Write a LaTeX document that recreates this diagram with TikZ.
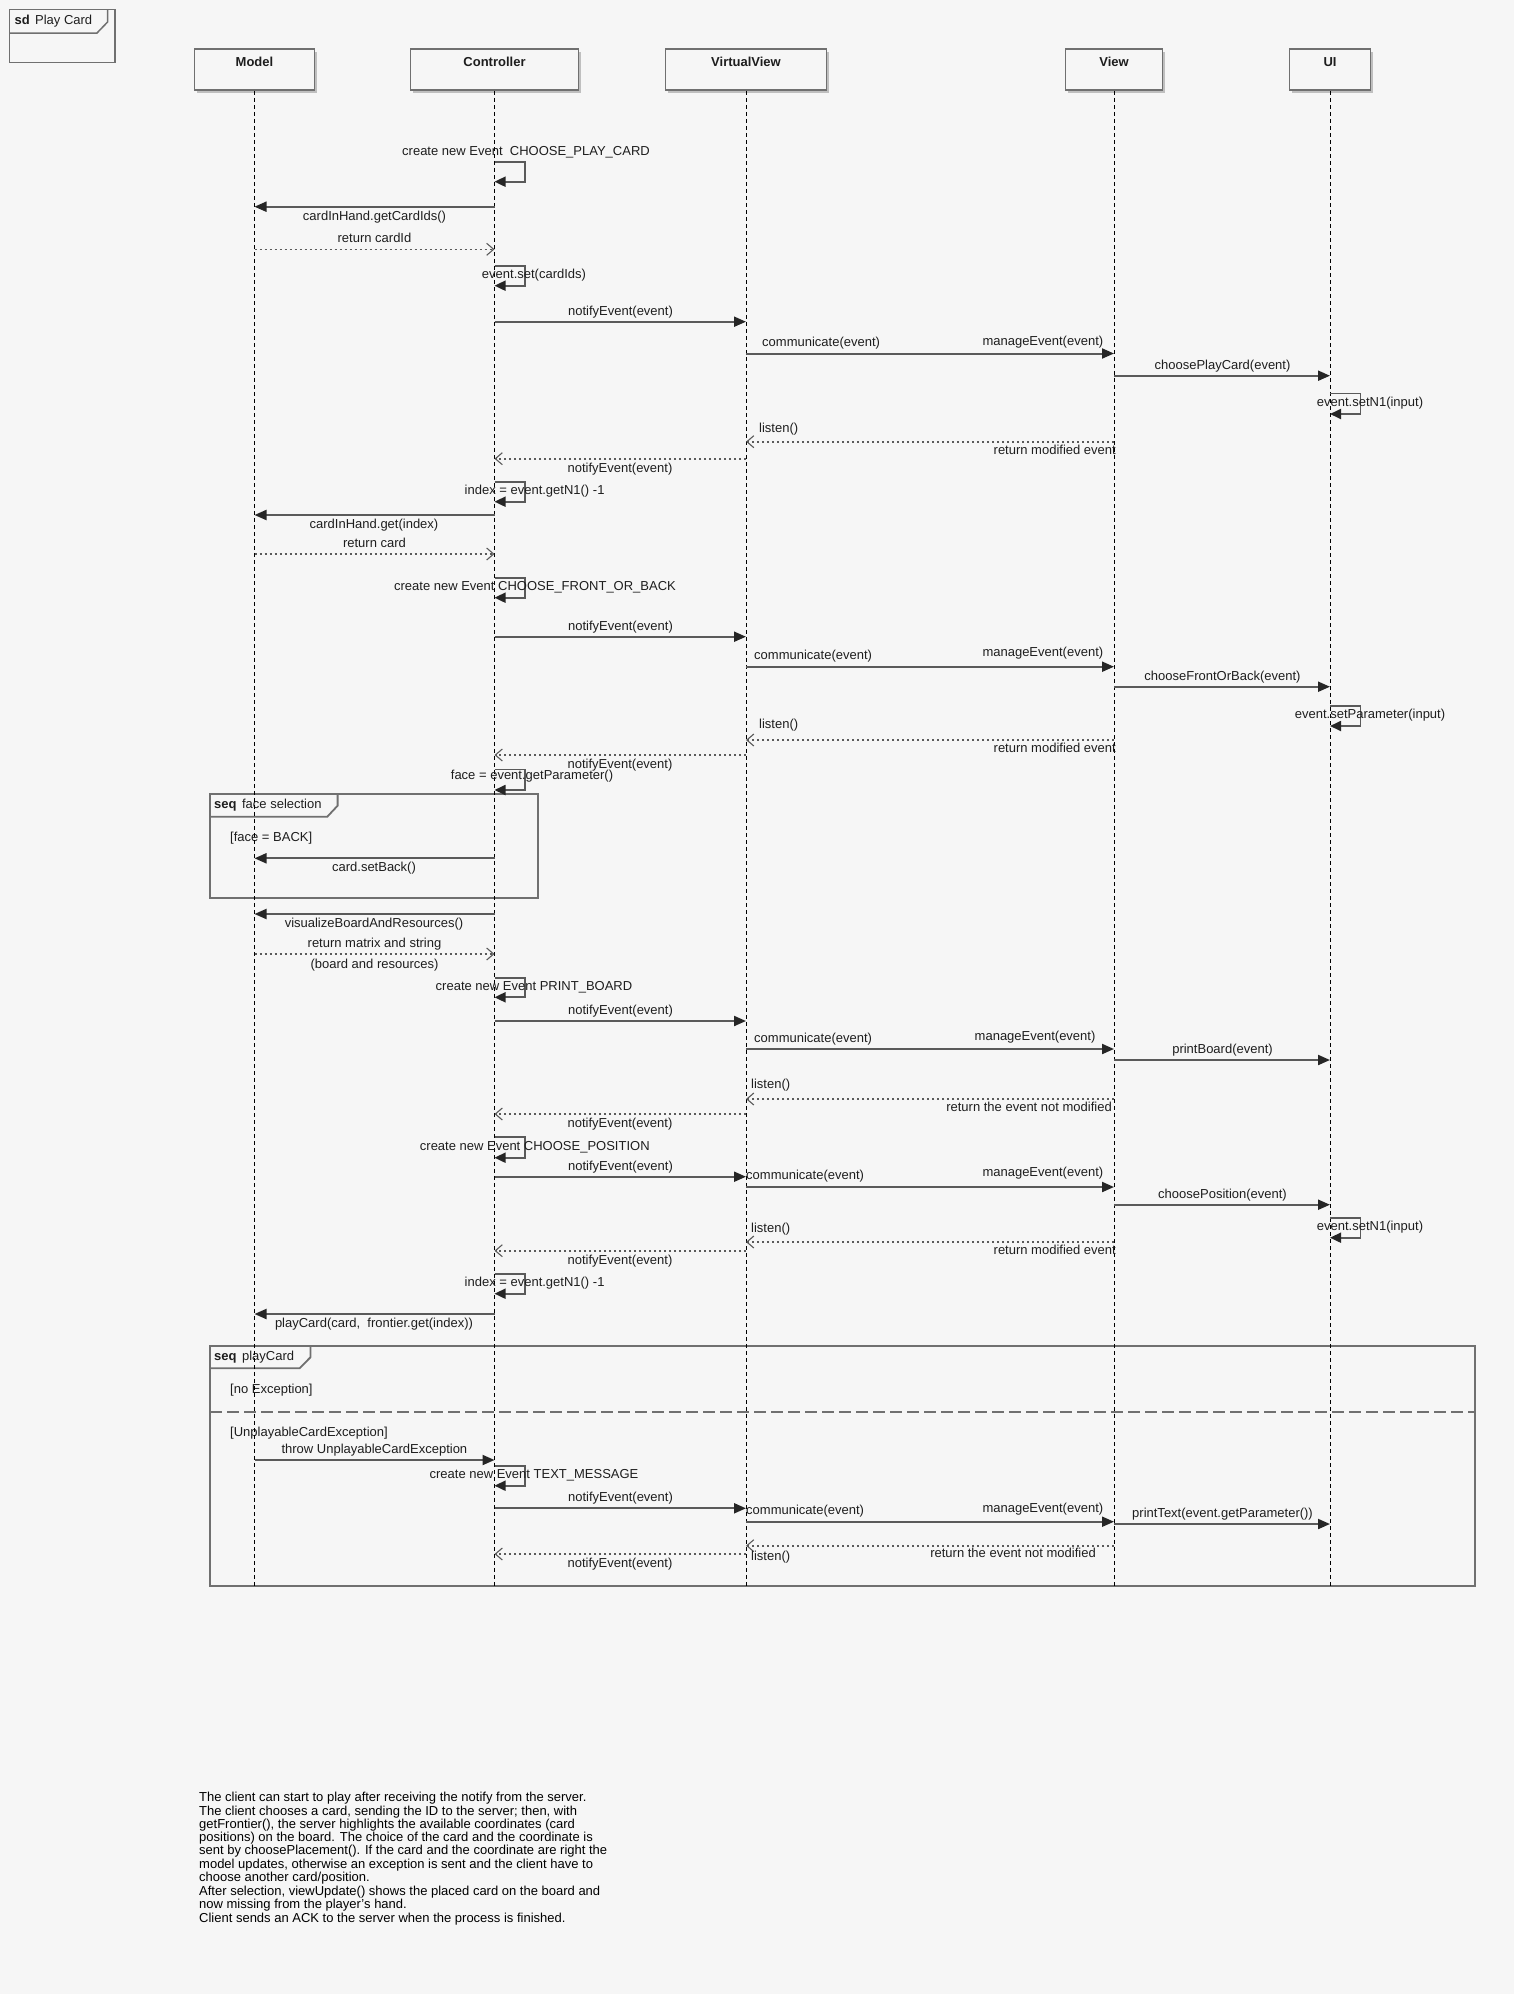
\documentclass[tikz,border=0pt]{standalone}
\usepackage{fontspec}
\setmainfont{Liberation Sans}
\usetikzlibrary{arrows.meta}
\definecolor{sheet}{HTML}{F6F6F6}
\definecolor{ink}{HTML}{1E1E1E}
\definecolor{wire}{HTML}{5A5A5A}
\definecolor{rim}{HTML}{707070}

\tikzset{
  lbl/.style={font=\fontsize{13}{15}\selectfont, text=ink, inner sep=0pt,
              text height=9.5pt, text depth=2.5pt},
  boxlbl/.style={lbl, font=\fontsize{13}{15}\selectfont\bfseries},
  head/.style={draw=rim, fill=sheet, line width=1.6pt, minimum height=41pt,
               inner sep=0pt},
  shade/.style={fill=black!25},
  lifeline/.style={draw=black, line width=0.9pt, dash pattern=on 4pt off 3pt},
  call/.style={draw=wire, line width=2pt,
               -{Triangle[length=12pt,width=10pt,color=black!85]}},
  selfcall/.style={draw=wire, line width=1.8pt,
               -{Triangle[length=11pt,width=10pt,color=black!85]}},
  reply/.style={draw=wire, line width=1.6pt, dash pattern=on 2.5pt off 2.5pt,
               -{Straight Barb[length=7pt,width=12pt,line width=1.1pt]}},
  frame/.style={draw=rim, line width=1.8pt},
}

\begin{document}
\begin{tikzpicture}[x=1pt,y=-1pt]
\useasboundingbox (0,0) rectangle (1514,1994);
\fill[sheet] (0,0) rectangle (1514,1994);

% ---------- sequence diagram frame ----------
\draw[frame, line width=1.5pt] (9.5,9.5) rectangle (115,62.5);
\draw[frame, line width=1.5pt] (9.5,33) -- (97,33) -- (107.6,22) -- (107.6,9.5);
\node[lbl, anchor=west] (sdT) at (14.5,20.7) {\textbf{sd}\hspace{5.3pt}Play Card};

% ---------- participants ----------
\foreach \nm/\cx/\w in {model/254.5/120, ctrl/494.5/168, vv/746/161, view/1114/97, ui/1330/81}{
  \fill[shade] (\cx-\w/2+2.5,49+2.5) rectangle (\cx+\w/2+2.5,90+2.5);
}
\node[head, minimum width=120pt] (model) at (254.5,69.5) {};
\node[head, minimum width=168pt] (ctrl)  at (494.5,69.5) {};
\node[head, minimum width=161pt] (vv)    at (746,69.5)   {};
\node[head, minimum width=97pt]  (view)  at (1114,69.5)  {};
\node[head, minimum width=81pt]  (ui)    at (1330,69.5)  {};
\node[boxlbl] (modelT) at (254.5,62.7) {Model};
\node[boxlbl] (ctrlT)  at (494.5,62.7) {Controller};
\node[boxlbl] (vvT)    at (746,62.7)   {VirtualView};
\node[boxlbl] (viewT)  at (1114,62.7)  {View};
\node[boxlbl] (uiT)    at (1330,62.7)  {UI};

% ---------- combined fragments ----------
\draw[frame] (210,794) rectangle (538,897.7);
\draw[frame] (210,816.7) -- (327.3,816.7) -- (337.6,805.7) -- (337.6,794);
\node[lbl, anchor=west] (fsT) at (214,805) {\textbf{seq}\hspace{5.5pt}face selection};
\node[lbl, anchor=west] (fsG) at (230,837.7) {[face = BACK]};

\draw[frame] (210,1345.7) rectangle (1474.7,1585.7);
\draw[frame] (210,1368.3) -- (299.6,1368.3) -- (310.4,1357.3) -- (310.4,1345.7);
\node[lbl, anchor=west] (pcT) at (214,1356.7) {\textbf{seq}\hspace{5.5pt}playCard};
\node[lbl, anchor=west] (pcG1) at (230,1390) {[no Exception]};
\draw[frame, dash pattern=on 12pt off 5pt] (210,1412) -- (1474.7,1412);
\node[lbl, anchor=west] (pcG2) at (230,1432.7) {[UnplayableCardException]};

% ---------- lifelines ----------
\foreach \p in {model,ctrl,vv,view,ui}{
  \draw[lifeline] (\p.south) -- (\p.south |- 0,1586);
}

% ---------- choose the card ----------
\node[lbl] (t1) at (526,151.7) {create new Event\ \ CHOOSE\_PLAY\_CARD};
\draw[selfcall] (ctrl |- 0,161.7) -- ++(30.5,0) -- ++(0,20) -- ++(-30.5,0);

\draw[call] (ctrl |- 0,206.7) -- (model |- 0,206.7);
\node[lbl] (t2) at (374.5,216.7) {cardInHand.getCardIds()};
\draw[reply] (model |- 0,249.3) -- (ctrl |- 0,249.3);
\node[lbl] (t3) at (374.5,239.3) {return cardId};

\draw[selfcall] (ctrl |- 0,265.7) -- ++(30.5,0) -- ++(0,20) -- ++(-30.5,0);
\node[lbl] (t4) at (534,275) {event.set(cardIds)};

\draw[call] (ctrl |- 0,321.7) -- (vv |- 0,321.7);
\node[lbl] (t5) at (620.5,311.7) {notifyEvent(event)};

\draw[call] (vv |- 0,353.5) -- (view |- 0,353.5);
\node[lbl, anchor=west] (t6a) at (762,342.7) {communicate(event)};
\node[lbl, anchor=east] (t6b) at (1103.4,341.7) {manageEvent(event)};

\draw[call] (view |- 0,375.7) -- (ui |- 0,375.7);
\node[lbl] (t7) at (1222.5,365.7) {choosePlayCard(event)};

\draw[selfcall] (ui |- 0,393.5) -- ++(30.5,0) -- ++(0,20.5) -- ++(-30.5,0);
\node[lbl] (t8) at (1370,403) {event.setN1(input)};

\draw[reply] (view |- 0,441.7) -- (vv |- 0,441.7);
\node[lbl, anchor=west] (t9a) at (759,429) {listen()};
\node[lbl, anchor=east] (t9b) at (1116,450.7) {return modified event};

\draw[reply] (vv |- 0,458.7) -- (ctrl |- 0,458.7);
\node[lbl] (t10) at (620,468.7) {notifyEvent(event)};

\draw[selfcall] (ctrl |- 0,481.7) -- ++(30.5,0) -- ++(0,20) -- ++(-30.5,0);
\node[lbl] (t11) at (534.6,490.7) {index = event.getN1() -1};

\draw[call] (ctrl |- 0,515) -- (model |- 0,515);
\node[lbl] (t12) at (374,524.7) {cardInHand.get(index)};
\draw[reply] (model |- 0,554) -- (ctrl |- 0,554);
\node[lbl] (t13) at (374.5,543.7) {return card};

% ---------- choose the face ----------
\draw[selfcall] (ctrl |- 0,577.7) -- ++(30.5,0) -- ++(0,20) -- ++(-30.5,0);
\node[lbl] (t14) at (535,586.7) {create new Event CHOOSE\_FRONT\_OR\_BACK};

\draw[call] (ctrl |- 0,636.7) -- (vv |- 0,636.7);
\node[lbl] (t15) at (620.5,626.7) {notifyEvent(event)};

\draw[call] (vv |- 0,666.7) -- (view |- 0,666.7);
\node[lbl, anchor=west] (t16a) at (754,655.7) {communicate(event)};
\node[lbl, anchor=east] (t16b) at (1103.4,652.7) {manageEvent(event)};

\draw[call] (view |- 0,686.7) -- (ui |- 0,686.7);
\node[lbl] (t17) at (1222.5,676.7) {chooseFrontOrBack(event)};

\draw[selfcall] (ui |- 0,705.7) -- ++(30.5,0) -- ++(0,20.3) -- ++(-30.5,0);
\node[lbl] (t18) at (1370,715) {event.setParameter(input)};

\draw[reply] (view |- 0,740) -- (vv |- 0,740);
\node[lbl, anchor=west] (t19a) at (759,725) {listen()};
\node[lbl, anchor=east] (t19b) at (1116,749) {return modified event};

\draw[reply] (vv |- 0,755) -- (ctrl |- 0,755);
\node[lbl] (t20) at (620,765) {notifyEvent(event)};

\draw[selfcall] (ctrl |- 0,769.5) -- ++(30.5,0) -- ++(0,20.5) -- ++(-30.5,0);
\node[lbl] (t21) at (532,776) {face = event.getParameter()};

\draw[call] (ctrl |- 0,858.3) -- (model |- 0,858.3);
\node[lbl] (t24) at (374,868.3) {card.setBack()};

% ---------- print the board ----------
\draw[call] (ctrl |- 0,914) -- (model |- 0,914);
\node[lbl] (t25) at (374,924) {visualizeBoardAndResources()};
\draw[reply] (model |- 0,954) -- (ctrl |- 0,954);
\node[lbl] (t26a) at (374.5,944) {return matrix and string};
\node[lbl] (t26b) at (374.5,965) {(board and resources)};

\draw[selfcall] (ctrl |- 0,978.3) -- ++(30.5,0) -- ++(0,19) -- ++(-30.5,0);
\node[lbl] (t27) at (534,986.7) {create new Event PRINT\_BOARD};

\draw[call] (ctrl |- 0,1021) -- (vv |- 0,1021);
\node[lbl] (t28) at (620.5,1010.7) {notifyEvent(event)};

\draw[call] (vv |- 0,1049) -- (view |- 0,1049);
\node[lbl, anchor=west] (t29a) at (754,1039) {communicate(event)};
\node[lbl, anchor=east] (t29b) at (1095.6,1036.7) {manageEvent(event)};

\draw[call] (view |- 0,1060) -- (ui |- 0,1060);
\node[lbl] (t30) at (1222.5,1050) {printBoard(event)};

\draw[reply] (view |- 0,1099) -- (vv |- 0,1099);
\node[lbl, anchor=west] (t31a) at (751,1085) {listen()};
\node[lbl, anchor=east] (t31b) at (1112,1107.7) {return the event not modified};

\draw[reply] (vv |- 0,1114) -- (ctrl |- 0,1114);
\node[lbl] (t32) at (620,1124) {notifyEvent(event)};

% ---------- choose the position ----------
\draw[selfcall] (ctrl |- 0,1137.3) -- ++(30.5,0) -- ++(0,20.4) -- ++(-30.5,0);
\node[lbl] (t33) at (534.8,1146.7) {create new Event CHOOSE\_POSITION};

\draw[call] (ctrl |- 0,1176.7) -- (vv |- 0,1176.7);
\node[lbl] (t34) at (620.5,1166.7) {notifyEvent(event)};
\node[lbl, anchor=west] (t35a) at (746,1175.7) {communicate(event)};

\draw[call] (vv |- 0,1187) -- (view |- 0,1187);
\node[lbl, anchor=east] (t35b) at (1103.4,1172.7) {manageEvent(event)};

\draw[call] (view |- 0,1204.7) -- (ui |- 0,1204.7);
\node[lbl] (t36) at (1222.5,1194.7) {choosePosition(event)};

\draw[selfcall] (ui |- 0,1218) -- ++(30.5,0) -- ++(0,19.7) -- ++(-30.5,0);
\node[lbl] (t37) at (1370,1226.7) {event.setN1(input)};

\draw[reply] (view |- 0,1242) -- (vv |- 0,1242);
\node[lbl, anchor=west] (t38a) at (751,1228.7) {listen()};
\node[lbl, anchor=east] (t38b) at (1116,1250.7) {return modified event};

\draw[reply] (vv |- 0,1250.7) -- (ctrl |- 0,1250.7);
\node[lbl] (t39) at (620,1260.7) {notifyEvent(event)};

\draw[selfcall] (ctrl |- 0,1274) -- ++(30.5,0) -- ++(0,19.7) -- ++(-30.5,0);
\node[lbl] (t40) at (534.6,1282.7) {index = event.getN1() -1};

\draw[call] (ctrl |- 0,1314) -- (model |- 0,1314);
\node[lbl] (t41) at (374,1324) {playCard(card,\ \ frontier.get(index))};

% ---------- exception branch ----------
\draw[call] (model |- 0,1460) -- (ctrl |- 0,1460);
\node[lbl] (t46) at (374.4,1450) {throw UnplayableCardException};

\draw[selfcall] (ctrl |- 0,1465.7) -- ++(30.5,0) -- ++(0,20) -- ++(-30.5,0);
\node[lbl] (t47) at (534,1474.7) {create new Event TEXT\_MESSAGE};

\draw[call] (ctrl |- 0,1508.3) -- (vv |- 0,1508.3);
\node[lbl] (t48) at (620.5,1497.7) {notifyEvent(event)};
\node[lbl, anchor=west] (t49a) at (746,1510.7) {communicate(event)};

\draw[call] (vv |- 0,1521.7) -- (view |- 0,1521.7);
\node[lbl, anchor=east] (t49b) at (1103.4,1509) {manageEvent(event)};

\draw[call] (view |- 0,1524) -- (ui |- 0,1524);
\node[lbl] (t50) at (1222.5,1514) {printText(event.getParameter())};

\draw[reply] (view |- 0,1545.7) -- (vv |- 0,1545.7);
\node[lbl, anchor=east] (t51) at (1096,1554) {return the event not modified};

\draw[reply] (vv |- 0,1554) -- (ctrl |- 0,1554);
\node[lbl, anchor=west] (t52a) at (751,1557.3) {listen()};
\node[lbl] (t52b) at (620,1564) {notifyEvent(event)};

% ---------- note ----------
\node[lbl, anchor=west, text=black] (n1)  at (199,1798.3) {The client can start to play after receiving the notify from the server.};
\node[lbl, anchor=west, text=black] (n2)  at (199,1811.6) {The client chooses a card, sending the ID to the server; then, with};
\node[lbl, anchor=west, text=black] (n3)  at (199,1824.9) {getFrontier(), the server highlights the available coordinates (card};
\node[lbl, anchor=west, text=black] (n4)  at (199,1838.1) {positions) on the board. The choice of the card and the coordinate is};
\node[lbl, anchor=west, text=black] (n5)  at (199,1851.4) {sent by choosePlacement(). If the card and the coordinate are right the};
\node[lbl, anchor=west, text=black] (n6)  at (199,1864.6) {model updates, otherwise an exception is sent and the client have to};
\node[lbl, anchor=west, text=black] (n7)  at (199,1877.9) {choose another card/position.};
\node[lbl, anchor=west, text=black] (n8)  at (199,1891.5) {After selection, viewUpdate() shows the placed card on the board and};
\node[lbl, anchor=west, text=black] (n9)  at (199,1904.8) {now missing from the player's hand.};
\node[lbl, anchor=west, text=black] (n10) at (199,1918.6) {Client sends an ACK to the server when the process is finished.};
\end{tikzpicture}
\end{document}
